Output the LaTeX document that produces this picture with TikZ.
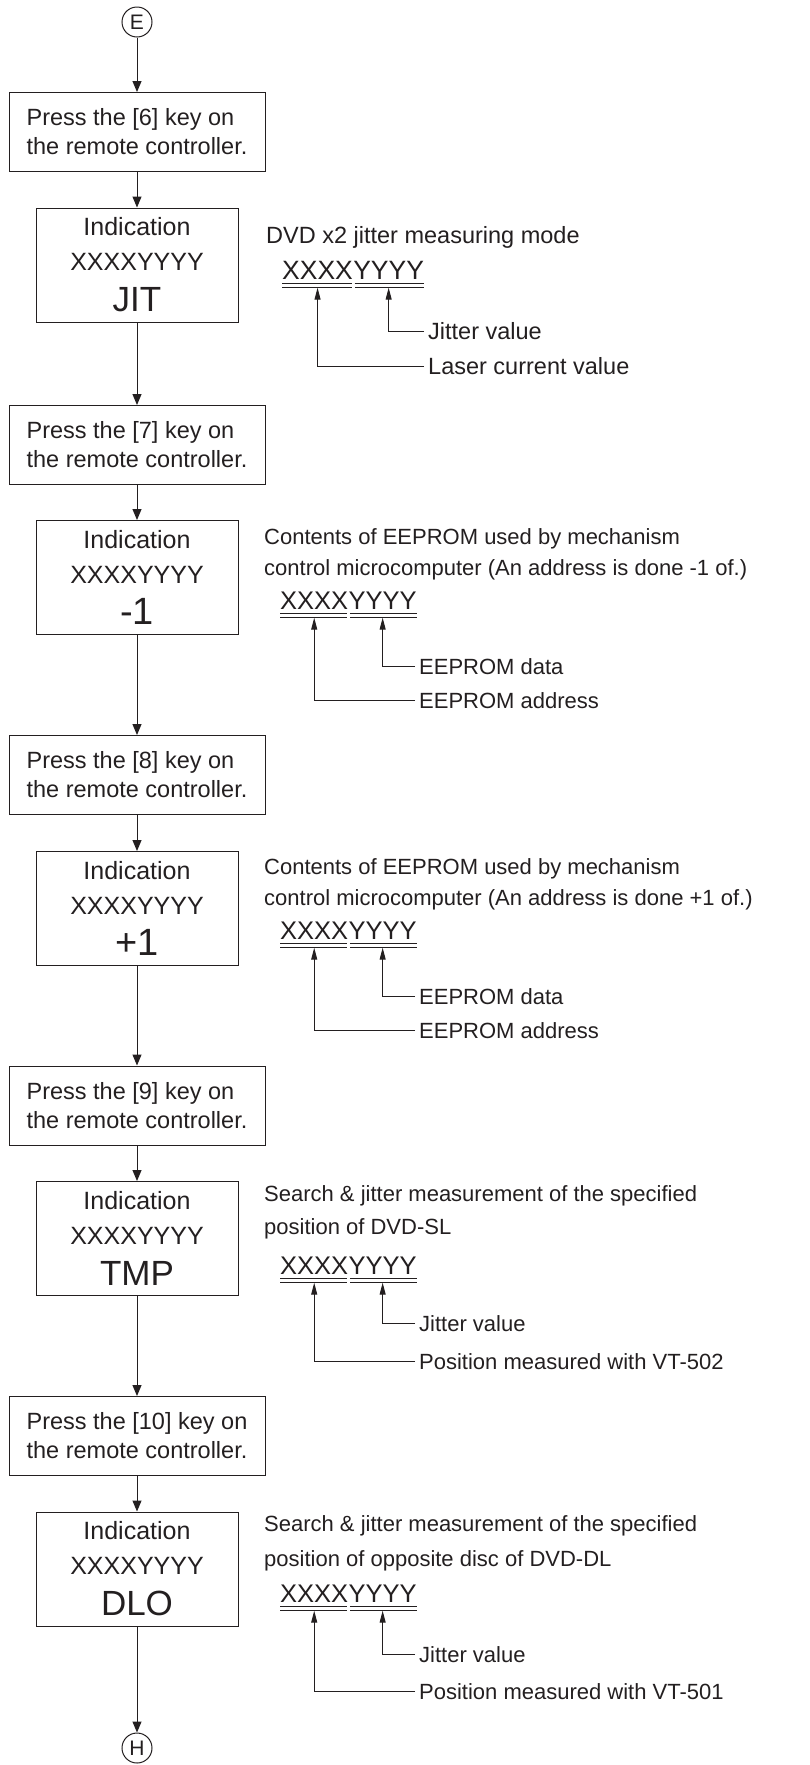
\documentclass[tikz,border=0pt]{standalone}
\usepackage{fontspec}
\setmainfont{Liberation Sans}
\usetikzlibrary{arrows.meta, positioning}
\definecolor{ink}{RGB}{35,31,32}
\tikzset{
  keybox/.style={
    draw=ink, line width=1pt, align=left, text=ink,
    minimum width=256pt, minimum height=79pt, inner sep=0pt,
    font=\fontsize{23.5}{29}\selectfont
  },
  showbox/.style={
    draw=ink, line width=1pt, align=center, text=ink,
    minimum width=202pt, minimum height=114pt, inner sep=0pt,
    font=\fontsize{25}{35}\selectfont
  },
  connector/.style={
    circle, draw=ink, line width=1pt, text=ink, minimum size=30pt,
    inner sep=0pt, font=\fontsize{21}{21}\selectfont
  },
  flowarrow/.style={-{Triangle[length=11pt, width=9pt]}, line width=1pt, draw=ink},
  notearrow/.style={-{Triangle[length=12pt, width=6pt]}, line width=1pt, draw=ink},
  notetext/.style={
    anchor=base west, inner sep=0pt, align=left, text=ink,
    font=\fontsize{22}{31}\selectfont
  },
  notelabel/.style={
    anchor=west, inner xsep=4pt, inner ysep=0pt, text=ink,
    text height=16pt, text depth=0pt, font=\fontsize{22}{22}\selectfont
  },
  digits/.style={
    anchor=base west, inner sep=0pt, text=ink, text depth=8.5pt,
    font=\fontsize{25.5}{25.5}\selectfont
  },
  dblline/.style={double, double distance=2.6pt, line width=0.8pt, draw=ink},
}
\begin{document}
\begin{tikzpicture}[x=1pt, y=-1pt]
  \useasboundingbox (0,0) rectangle (810,1765);

  % === Flow column ===
  \node[connector] (circE) at (137,22) {E};

  \node[keybox] (press6) at (137,132) {Press the [6] key on\\the remote controller.};
  \node[showbox] (indJIT) at (137,265)
    {Indication\\XXXXYYYY\\[6pt]{\fontsize{35}{35}\selectfont JIT}};

  \node[keybox] (press7) at (137,445) {Press the [7] key on\\the remote controller.};
  \node[showbox] (indMinus) at (137,577.5)
    {Indication\\XXXXYYYY\\[6pt]{\fontsize{38}{38}\selectfont -1}};

  \node[keybox] (press8) at (137,775) {Press the [8] key on\\the remote controller.};
  \node[showbox] (indPlus) at (137,908.5)
    {Indication\\XXXXYYYY\\[6pt]{\fontsize{38}{38}\selectfont +1}};

  \node[keybox] (press9) at (137,1105.5) {Press the [9] key on\\the remote controller.};
  \node[showbox] (indTMP) at (137,1238.5)
    {Indication\\XXXXYYYY\\[6pt]{\fontsize{35}{35}\selectfont TMP}};

  \node[keybox] (press10) at (137,1436) {Press the [10] key on\\the remote controller.};
  \node[showbox] (indDLO) at (137,1569)
    {Indication\\XXXXYYYY\\[6pt]{\fontsize{35}{35}\selectfont DLO}};

  \node[connector] (circH) at (137,1748) {H};

  % === Arrows ===
  \draw[flowarrow] (circE.south) -- (press6.north);
  \draw[flowarrow] (press6.south) -- (indJIT.north);
  \draw[flowarrow] (indJIT.south) -- (press7.north);
  \draw[flowarrow] (press7.south) -- (indMinus.north);
  \draw[flowarrow] (indMinus.south) -- (press8.north);
  \draw[flowarrow] (press8.south) -- (indPlus.north);
  \draw[flowarrow] (indPlus.south) -- (press9.north);
  \draw[flowarrow] (press9.south) -- (indTMP.north);
  \draw[flowarrow] (indTMP.south) -- (press10.north);
  \draw[flowarrow] (press10.south) -- (indDLO.north);
  \draw[flowarrow] (indDLO.south) -- (circH.north);

  % === JIT readout ===
  \node[notetext, font=\fontsize{23.5}{31}\selectfont] (descJIT) at (266,243)
    {DVD x2 jitter measuring mode};
  \node[digits, font=\fontsize{26.5}{26.5}\selectfont] (xxJIT) at (282,279) {XXXX};
  \node[digits, font=\fontsize{26.5}{26.5}\selectfont] (yyJIT) at (xxJIT.base east) {YYYY};
  \draw[dblline] ([yshift=2.2pt]xxJIT.south west) -- ([xshift=-1.5pt, yshift=2.2pt]xxJIT.south east);
  \draw[dblline] ([xshift=1.5pt, yshift=2.2pt]yyJIT.south west) -- ([yshift=2.2pt]yyJIT.south east);
  \node[notelabel, font=\fontsize{23.5}{23.5}\selectfont] (jitJIT) at (424,331) {Jitter value};
  \node[notelabel, font=\fontsize{23.5}{23.5}\selectfont] (laserJIT) at (424,366) {Laser current value};
  \draw[notearrow] (jitJIT.west) -| (yyJIT.south);
  \draw[notearrow] (laserJIT.west) -| (xxJIT.south);

  % === -1 readout ===
  \node[notetext] (descMinus) at (264,575)
    {Contents of EEPROM used by mechanism\\control microcomputer (An address is done -1 of.)};
  \node[digits] (xxMinus) at (280,609) {XXXX};
  \node[digits] (yyMinus) at (xxMinus.base east) {YYYY};
  \draw[dblline] ([yshift=2.2pt]xxMinus.south west) -- ([xshift=-1.5pt, yshift=2.2pt]xxMinus.south east);
  \draw[dblline] ([xshift=1.5pt, yshift=2.2pt]yyMinus.south west) -- ([yshift=2.2pt]yyMinus.south east);
  \node[notelabel] (dataMinus) at (415,666) {EEPROM data};
  \node[notelabel] (addrMinus) at (415,700) {EEPROM address};
  \draw[notearrow] (dataMinus.west) -| (yyMinus.south);
  \draw[notearrow] (addrMinus.west) -| (xxMinus.south);

  % === +1 readout ===
  \node[notetext] (descPlus) at (264,905)
    {Contents of EEPROM used by mechanism\\control microcomputer (An address is done +1 of.)};
  \node[digits] (xxPlus) at (280,939) {XXXX};
  \node[digits] (yyPlus) at (xxPlus.base east) {YYYY};
  \draw[dblline] ([yshift=2.2pt]xxPlus.south west) -- ([xshift=-1.5pt, yshift=2.2pt]xxPlus.south east);
  \draw[dblline] ([xshift=1.5pt, yshift=2.2pt]yyPlus.south west) -- ([yshift=2.2pt]yyPlus.south east);
  \node[notelabel] (dataPlus) at (415,996) {EEPROM data};
  \node[notelabel] (addrPlus) at (415,1030) {EEPROM address};
  \draw[notearrow] (dataPlus.west) -| (yyPlus.south);
  \draw[notearrow] (addrPlus.west) -| (xxPlus.south);

  % === TMP readout ===
  \node[notetext, font=\fontsize{22}{33}\selectfont] (descTMP) at (264,1234)
    {Search \& jitter measurement of the specified\\position of DVD-SL};
  \node[digits] (xxTMP) at (280,1274) {XXXX};
  \node[digits] (yyTMP) at (xxTMP.base east) {YYYY};
  \draw[dblline] ([yshift=2.2pt]xxTMP.south west) -- ([xshift=-1.5pt, yshift=2.2pt]xxTMP.south east);
  \draw[dblline] ([xshift=1.5pt, yshift=2.2pt]yyTMP.south west) -- ([yshift=2.2pt]yyTMP.south east);
  \node[notelabel] (jitTMP) at (415,1323) {Jitter value};
  \node[notelabel] (posTMP) at (415,1361) {Position measured with VT-502};
  \draw[notearrow] (jitTMP.west) -| (yyTMP.south);
  \draw[notearrow] (posTMP.west) -| (xxTMP.south);

  % === DLO readout ===
  \node[notetext, font=\fontsize{22}{35}\selectfont] (descDLO) at (264,1566)
    {Search \& jitter measurement of the specified\\position of opposite disc of DVD-DL};
  \node[digits] (xxDLO) at (280,1602) {XXXX};
  \node[digits] (yyDLO) at (xxDLO.base east) {YYYY};
  \draw[dblline] ([yshift=2.2pt]xxDLO.south west) -- ([xshift=-1.5pt, yshift=2.2pt]xxDLO.south east);
  \draw[dblline] ([xshift=1.5pt, yshift=2.2pt]yyDLO.south west) -- ([yshift=2.2pt]yyDLO.south east);
  \node[notelabel] (jitDLO) at (415,1654) {Jitter value};
  \node[notelabel] (posDLO) at (415,1691) {Position measured with VT-501};
  \draw[notearrow] (jitDLO.west) -| (yyDLO.south);
  \draw[notearrow] (posDLO.west) -| (xxDLO.south);

\end{tikzpicture}
\end{document}
